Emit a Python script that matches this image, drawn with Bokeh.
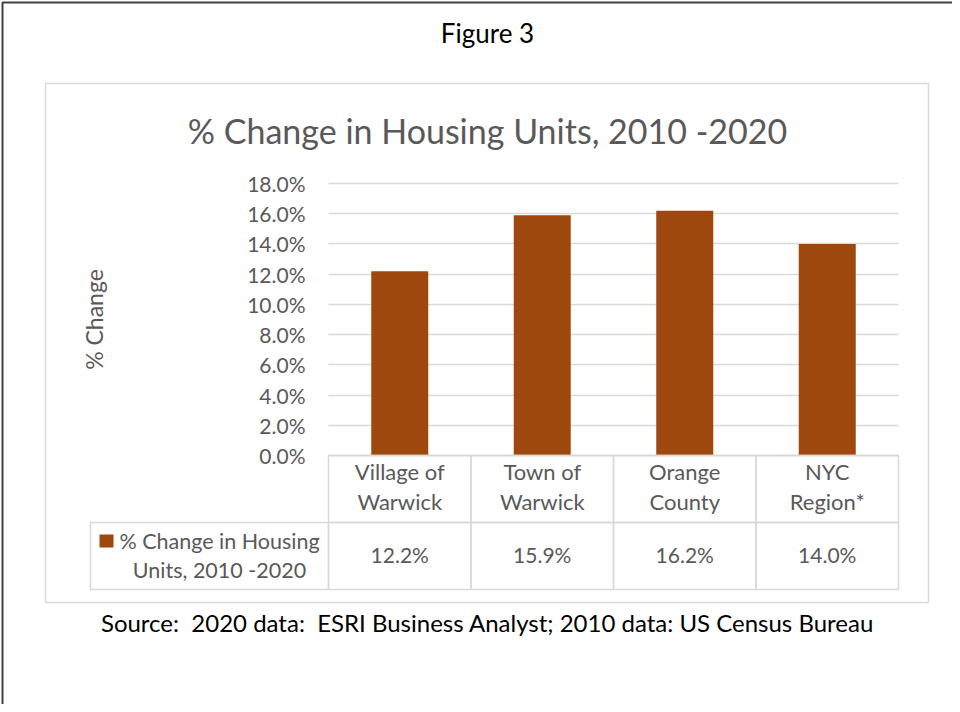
from bokeh.plotting import figure
from bokeh.models import (ColumnDataSource, Range1d, FixedTicker, Grid,
                          PrintfTickFormatter, Label, LabelSet, BoxAnnotation)
from bokeh.core.properties import value
from bokeh.embed import file_html
from bokeh.resources import INLINE

# ---- data ----
categories = ["Village of\nWarwick", "Town of\nWarwick", "Orange\nCounty", "NYC\nRegion*"]
pct_change = [12.2, 15.9, 16.2, 14.0]
y_ticks = [0, 2, 4, 6, 8, 10, 12, 14, 16, 18]
series_name = ["% Change in Housing", "Units, 2010 -2020"]
figure_label = "Figure 3"
chart_title = "% Change in Housing Units, 2010 -2020"
y_title = "% Change"
source_note = "Source: \u00a02020 data: \u00a0ESRI Business Analyst; 2010 data: US Census Bureau"

# ---- layout (pixels) ----
W, H = 952, 704
PL, PR, PT, PB = 328, 898, 183, 455     # plotting area of the chart
YMAX = y_ticks[-1]
NCAT = len(categories)
BAR = "#9E480E"
GRAY = "#595959"
LINE = "#d9d9d9"
FONT = "Lato"

ux = (PR - PL) / NCAT           # px per category
uy = (PB - PT) / YMAX           # px per percent
x_start, x_end = -PL / ux, (W - PL) / ux
y_start, y_end = -(H - PB) / uy, PB / uy


def sx(xr):
    return xr


def sy(yr):
    return H - yr


centers = [i + 0.5 for i in range(NCAT)]
src = ColumnDataSource(dict(
    x=centers,
    val=pct_change,
    txt=[f"{v:.1f}%" for v in pct_change],
))

p = figure(width=W, height=H, x_range=Range1d(x_start, x_end),
           y_range=Range1d(y_start, y_end), output_backend="svg",
           toolbar_location=None, title=None, min_border=0)
p.background_fill_color = "white"
p.border_fill_color = "white"
p.outline_line_color = None

# grid lines limited to the chart area
p.xgrid.visible = False
p.ygrid.ticker = FixedTicker(ticks=y_ticks)
p.ygrid.grid_line_color = LINE
p.ygrid.grid_line_width = 1.5
if "cross_bounds" in Grid.properties():
    p.ygrid.cross_bounds = (0, NCAT)
    p.ygrid.bounds = (0, YMAX)
else:
    p.ygrid.visible = False
    p.segment(x0=0, x1=NCAT, y0=y_ticks, y1=y_ticks, line_color=LINE, line_width=1.5)

p.vbar(x="x", top="val", width=0.4, source=src, fill_color=BAR, line_color=None)

# y axis
yax = p.yaxis[0]
yax.fixed_location = 0
yax.bounds = (0, YMAX)
yax.ticker = FixedTicker(ticks=y_ticks)
yax.formatter = PrintfTickFormatter(format="%.1f%%")
yax.axis_line_color = None
yax.major_tick_line_color = None
yax.minor_tick_line_color = None
yax.major_label_text_font = FONT
yax.major_label_text_font_size = "21px"
yax.major_label_text_color = GRAY
yax.major_label_standoff = 17
yax.axis_label = y_title
yax.axis_label_text_font = FONT
yax.axis_label_text_font_style = "normal"
yax.axis_label_text_font_size = "23px"
yax.axis_label_text_color = GRAY
yax.axis_label_standoff = 136

# x axis (categories)
xax = p.xaxis[0]
xax.fixed_location = 0
xax.bounds = (0, NCAT)
xax.ticker = FixedTicker(ticks=centers)
xax.major_label_overrides = {c: lab for c, lab in zip(centers, categories)}
xax.axis_line_color = LINE
xax.axis_line_width = 1.5
xax.major_tick_line_color = None
xax.minor_tick_line_color = None
xax.major_label_text_font = FONT
xax.major_label_text_font_size = "22px"
xax.major_label_text_color = GRAY
xax.major_label_text_line_height = 1.12
xax.major_label_standoff = -4

SCR = dict(left_units="screen", right_units="screen", top_units="screen", bottom_units="screen")
BOX = dict(fill_color=None, fill_alpha=0, line_alpha=1)

# outer page border (left/top visible) and chart box
p.add_layout(BoxAnnotation(left=sx(2), right=sx(1100), top=sy(2), bottom=sy(900), **SCR, **BOX,
                           line_color="#404040", line_width=2))
p.add_layout(BoxAnnotation(left=sx(45), right=sx(928), top=sy(83), bottom=sy(602), **SCR, **BOX,
                           line_color=LINE, line_width=1.5))

# data table cells
for k in range(NCAT):
    for (t, b) in [(PB, 522), (522, 589)]:
        p.add_layout(BoxAnnotation(left=k, right=k + 1, left_units="data", right_units="data",
                                   top=sy(t), bottom=sy(b), top_units="screen", bottom_units="screen",
                                   **BOX, line_color=LINE, line_width=1.5))
p.add_layout(BoxAnnotation(left=sx(90), right=sx(PL), top=sy(522), bottom=sy(589), **SCR, **BOX,
                           line_color=LINE, line_width=1.5))
# legend key
p.add_layout(BoxAnnotation(left=sx(99), right=sx(113), top=sy(534), bottom=sy(547), **SCR,
                           fill_color=BAR, fill_alpha=1, line_color=None))


def add_text(text, xr, yr, size, color, align="center"):
    p.add_layout(Label(x=sx(xr), y=sy(yr), x_units="screen", y_units="screen", text=text,
                       text_font=FONT, text_font_size=size, text_color=color,
                       text_align=align, text_baseline="middle"))


add_text(figure_label, 487, 32, "26px", "black")
add_text(chart_title, 487, 130, "34px", GRAY)
add_text(series_name[0], 219, 540, "21.5px", GRAY)
add_text(series_name[1], 219, 569, "21.5px", GRAY)
add_text(source_note, 487, 622, "24px", "black")

# values row of the data table
p.add_layout(LabelSet(x="x", y=sy(554), y_units="screen", text="txt", source=src,
                      text_font=value(FONT), text_font_size=value("21px"), text_color=GRAY,
                      text_align="center", text_baseline="middle"))

open("out.html", "w").write(file_html(p, INLINE))
